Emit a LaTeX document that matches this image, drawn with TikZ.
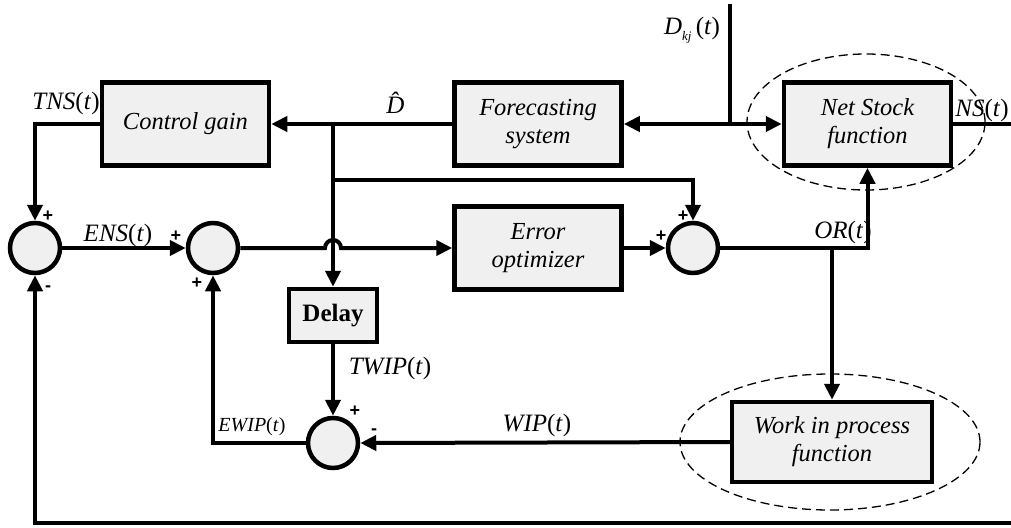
\documentclass[tikz,border=0pt]{standalone}
\usepackage{fontspec}
\setmainfont{Liberation Serif}
\newfontfamily\signfont{Liberation Sans}
\usetikzlibrary{arrows.meta,shapes.geometric,calc}
\definecolor{boxfill}{HTML}{F0F0F0}
\newcommand\mi[1]{\textit{#1}}
\begin{document}
\begin{tikzpicture}[x=1pt,y=-1pt,
 blk/.style={draw,line width=4.5pt,fill=boxfill,minimum width=167pt,minimum height=83pt,inner sep=0pt,font=\fontsize{24.5}{28}\selectfont\itshape,align=center},
 sumc/.style={draw,circle,line width=4.5pt,fill=boxfill,minimum size=50pt,inner sep=0pt},
 wire/.style={line width=4pt},
 arr/.style={wire,-{Triangle[length=16pt,width=15pt]}},
 lbl/.style={font=\fontsize{25}{27}\selectfont,inner sep=0pt},
 sgn/.style={font=\signfont\bfseries\fontsize{18}{18}\selectfont,inner sep=0pt},
 dashell/.style={line width=1.3pt,dash pattern=on 9pt off 5pt}]
\useasboundingbox (0,0) rectangle (1011,527);
% blocks
\node[blk] (cg) at (185.5,124) {Control gain};
\node[blk] (fc) at (538,124) {Forecasting\\system};
\node[blk] (ns) at (867.5,124) {Net Stock\\function};
\node[blk] (eo) at (538,248) {Error\\optimizer};
\node[blk,minimum width=88pt,minimum height=53pt,font=\fontsize{25}{28}\selectfont\bfseries] (dl) at (333,315.5) {Delay};
\node[blk,minimum width=200pt,minimum height=80pt] (wip) at (832,442) {Work in process\\function};
% summing junctions
\node[sumc] (s1) at (35,248) {};
\node[sumc] (s2) at (213,248) {};
\node[sumc] (s3) at (693,248) {};
\node[sumc] (s4) at (333,443) {};
% dashed ellipses
\draw[dashell] (866,122) ellipse (119pt and 68pt);
\draw[dashell] (830,442) ellipse (150pt and 68pt);
% junction coordinates
\coordinate (jD) at (333,124);
\coordinate (jD2) at (333,180);
\coordinate (jDk) at (730,124);
\coordinate (dtop) at (730,4);
\coordinate (nsout) at (1011,124);
\coordinate (jOR) at (832,248);
\coordinate (br) at (1011,523);
\coordinate (jL) at (325,248);
% connectors
\draw[arr] (fc.west) -- (cg.east);
\draw[arr] (jD) -- (dl.north);
\draw[arr] (jD2) -| (s3.north);
\draw[arr] (cg.west) -| (s1.north);
\draw[arr] (s1.east) -- (s2.west);
\draw[arr] (s2.east) -- (jL) arc[start angle=180,end angle=0,radius=8pt] -- (eo.west);
\draw[arr] (eo.east) -- (s3.west);
\draw[arr] (s3.east) -| (ns.south);
\draw[arr] (jOR) -- (wip.north);
\draw[arr] (wip.west) -- (s4.east);
\draw[arr] (dl.south) -- (s4.north);
\draw[arr] (s4.west) -| (s2.south);
\draw[arr] (br) -| (s1.south);
\draw[wire] (dtop) -- (jDk);
\draw[arr] (jDk) -- (ns.west);
\draw[arr] (jDk) -- (fc.east);
\draw[wire] (ns.east) -- (nsout);
% labels
\node[lbl] (lTNS) at (66,103) {\mi{TNS}(\mi{t})};
\node[lbl] (lENS) at (118,235) {\mi{ENS}(\mi{t})};
\node[lbl] (lDh) at (400,103) {\mi{\^{D}}};
\node[lbl] (lDk) at (692,30) {\mi{D}\raisebox{-6pt}{\fontsize{13}{13}\selectfont\mi{kj}}\,(\mi{t})};
\node[lbl] (lNS) at (982,110) {\mi{NS}(\mi{t})};
\node[lbl] (lOR) at (843,232) {\mi{OR}(\mi{t})};
\node[lbl] (lTW) at (390,368) {\mi{TWIP}(\mi{t})};
\node[lbl] (lW) at (537,425) {\mi{WIP}(\mi{t})};
\node[lbl,font=\fontsize{20}{22}\selectfont] (lEW) at (252,427) {\mi{EWIP}(\mi{t})};
% signs
\node[sgn] at (48,216) {+};
\node[sgn] at (48,289) {-};
\node[sgn] at (176,236) {+};
\node[sgn] at (197,283) {+};
\node[sgn] at (661,236) {+};
\node[sgn] at (683,216) {+};
\node[sgn] at (355,411) {+};
\node[sgn] at (374,432) {-};
\end{tikzpicture}
\end{document}
